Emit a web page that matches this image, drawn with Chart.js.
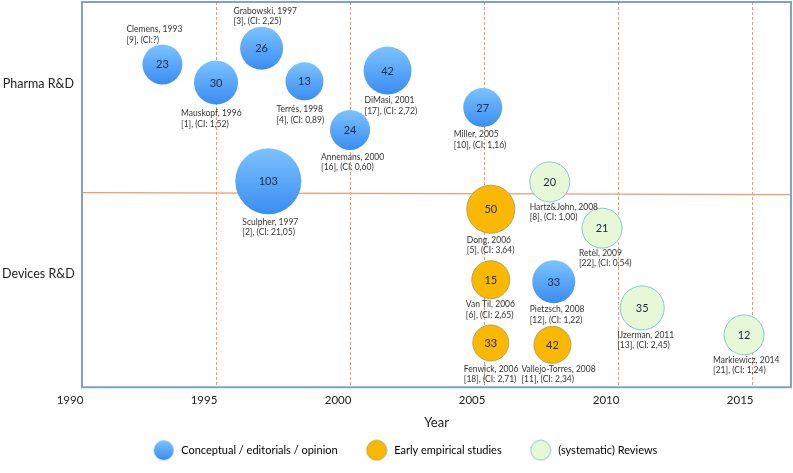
<!doctype html>
<html lang="en">
<head>
  <meta charset="utf-8">
  <title>Pharma and Devices R&amp;D studies</title>
  <script src="https://cdn.jsdelivr.net/npm/chart.js"></script>
  <style>
    html, body { margin: 0; padding: 0; background: #fff; }
  </style>
</head>
<body>
  <canvas id="studyChart" width="793" height="473"></canvas>

  <script>
    // categories and axis ticks
    const kindLabels = ['Conceptual / editorials / opinion', 'Early empirical studies', '(systematic) Reviews'];
    const rowLabels = ['Devices R&D', 'Pharma R&D'];
    const rowLevels = [29.5, 78.6];
    const yearTicks = [1990, 1995, 2000, 2005, 2010, 2015];
    const dividerLevels = [50.5, 50.0];

    // one entry per study
    const authors = ['Clemens, 1993', 'Mauskopf, 1996', 'Grabowski, 1997', 'Terrés, 1998', 'DiMasi, 2001',
      'Annemans, 2000', 'Sculpher, 1997', 'Miller, 2005', 'Pietzsch, 2008', 'Dong, 2006', 'Van Til, 2006',
      'Fenwick, 2006', 'Vallejo-Torres, 2008', 'Hartz&John, 2008', 'Retèl, 2009', 'IJzerman, 2011', 'Markiewicz, 2014'];
    const refs = ['[9], (CI:?)', '[1], (CI: 1,52)', '[3], (CI: 2,25)', '[4], (CI: 0,89)', '[17], (CI: 2,72)',
      '[16], (CI: 0,60)', '[2], (CI: 21,05)', '[10], (CI: 1,16)', '[12], (CI: 1,22)', '[5], (CI: 3,64)', '[6], (CI: 2,65)',
      '[18], (CI: 2,71)', '[11], (CI: 2,34)', '[8], (CI: 1,00)', '[22], (CI: 0,54)', '[13], (CI: 2,45)', '[21], (CI: 1,24)'];
    const counts = [23, 30, 26, 13, 42, 24, 103, 27, 33, 50, 15, 33, 42, 20, 21, 35, 12];
    const kinds = [0, 0, 0, 0, 0, 0, 0, 0, 0, 1, 1, 1, 1, 2, 2, 2, 2];
    const years = [1993.0, 1995.0, 1996.7, 1998.3, 2001.4, 2000.0, 1996.95, 2004.95, 2007.6,
      2005.25, 2005.25, 2005.25, 2007.55, 2007.45, 2009.4, 2010.9, 2014.7];
    const levels = [83.8, 79.1, 88.0, 79.4, 82.2, 66.8, 53.5, 72.6, 27.4,
      46.2, 27.9, 11.5, 11.0, 53.3, 41.3, 20.6, 13.6];
    const bubbleR = [20, 22, 21.5, 19, 24, 20, 33, 19.5, 21.5, 24, 19, 18, 18.5, 20, 20, 22, 20];

    // where each caption sits relative to its bubble (px)
    const captionOffsets = [[-36, -35], [-35, 31], [-28, -37], [-28, 28], [-23, 30], [-29, 27], [-26, 41], [-29, 27],
      [-24, 28], [-24, 31], [-25, 25], [-27, 26], [-31, 24], [-20, 25], [-23, 25], [-25, 27], [-31, 25]];

    const FONT = 'Lato, "Noto Sans", sans-serif';
    Chart.defaults.font.family = FONT;
    Chart.defaults.color = '#222';

    function blueFill(ctx, y, r) {
      const g = ctx.createLinearGradient(0, y - r, 0, y + r);
      g.addColorStop(0, '#7cc3ff');
      g.addColorStop(1, '#3a8cf1');
      return g;
    }

    // small canvases used as legend markers
    function makeIcon(kind) {
      const c = document.createElement('canvas');
      c.width = 22; c.height = 22;
      const g = c.getContext('2d');
      g.beginPath();
      g.arc(11, 11, 10, 0, Math.PI * 2);
      if (kind === 0) {
        g.fillStyle = blueFill(g, 11, 10);
        g.fill();
      } else if (kind === 1) {
        g.fillStyle = '#fbb800';
        g.fill();
        g.strokeStyle = '#b5a35a';
        g.stroke();
      } else {
        g.fillStyle = '#e6f8d6';
        g.fill();
        g.strokeStyle = '#86c5dc';
        g.stroke();
      }
      return c;
    }
    const legendIcons = [0, 1, 2].map(makeIcon);

    const datasets = kindLabels.map((label, k) => ({
      label,
      data: authors.map((a, i) => ({ x: years[i], y: levels[i], r: bubbleR[i], idx: i })).filter(p => kinds[p.idx] === k),
      backgroundColor: k === 0
        ? (c => {
            if (c.type !== 'data' || !c.chart.chartArea) return '#58a8fb';
            return blueFill(c.chart.ctx, c.chart.scales.y.getPixelForValue(c.raw.y), c.raw.r);
          })
        : (k === 1 ? '#fbb800' : '#e6f8d6'),
      borderColor: k === 0 ? 'transparent' : (k === 1 ? '#b5a35a' : '#86c5dc'),
      borderWidth: k === 0 ? 0 : 1
    }));

    // frame and divider line behind the bubbles
    const backdrop = {
      id: 'backdrop',
      beforeDatasetsDraw(chart) {
        const { ctx, chartArea: a, scales: { y } } = chart;
        ctx.save();
        ctx.strokeStyle = '#ef9a6a';
        ctx.lineWidth = 1.3;
        ctx.beginPath();
        ctx.moveTo(a.left, y.getPixelForValue(dividerLevels[0]));
        ctx.lineTo(a.right, y.getPixelForValue(dividerLevels[1]));
        ctx.stroke();
        ctx.strokeStyle = '#7ea2c9';
        ctx.lineWidth = 2;
        ctx.strokeRect(a.left, a.top, a.right - a.left, a.bottom - a.top);
        ctx.restore();
      }
    };

    // numbers inside bubbles and the captions
    const captions = {
      id: 'captions',
      afterDatasetsDraw(chart) {
        const ctx = chart.ctx;
        ctx.save();
        chart.data.datasets.forEach((ds, d) => {
          chart.getDatasetMeta(d).data.forEach((el, j) => {
            const i = ds.data[j].idx;
            ctx.fillStyle = '#1b2a46';
            ctx.font = '11px ' + FONT;
            ctx.textAlign = 'center';
            ctx.textBaseline = 'middle';
            ctx.fillText(String(counts[i]), el.x, el.y + 0.5);
            ctx.fillStyle = '#333';
            ctx.font = '8.5px ' + FONT;
            ctx.textAlign = 'left';
            const [dx, dy] = captionOffsets[i];
            ctx.fillText(authors[i], el.x + dx, el.y + dy);
            ctx.fillText(refs[i], el.x + dx, el.y + dy + 10.5);
          });
        });
        ctx.restore();
      }
    };

    new Chart(document.getElementById('studyChart'), {
      type: 'bubble',
      data: { datasets },
      options: {
        responsive: false,
        animation: false,
        events: [],
        layout: { autoPadding: false, padding: { left: 18, right: 2, top: 2, bottom: 7.25 } },
        scales: {
          x: {
            type: 'linear',
            min: 1990,
            max: 2016.45,
            afterBuildTicks: s => { s.ticks = yearTicks.map(v => ({ value: v })); },
            afterFit: s => { s.height = 30.5; s.paddingLeft = 0; s.paddingRight = 0; },
            ticks: { callback: v => String(v), font: { size: 11.5 }, padding: 6, labelOffset: -12, maxRotation: 0, autoSkip: false },
            grid: {
              color: c => (c.tick && c.tick.value > 1990 ? '#ec9a6c' : 'transparent'),
              lineWidth: 1,
              drawTicks: false
            },
            border: { display: false, dash: [3, 2] },
            title: { display: true, text: 'Year', font: { size: 13 }, padding: { top: 0, bottom: -13 } }
          },
          y: {
            type: 'linear',
            min: 0,
            max: 100,
            afterBuildTicks: s => { s.ticks = rowLevels.map(v => ({ value: v })); },
            afterFit: s => { s.width = 64; s.paddingTop = 0; s.paddingBottom = 0; },
            // labels sit left of the frame, drawn from the canvas edge
            ticks: { callback: (v, i) => rowLabels[i], font: { size: 12.5 }, mirror: true, crossAlign: 'center', padding: -80 },
            grid: { display: false, drawTicks: false },
            border: { display: false }
          }
        },
        plugins: {
          tooltip: { enabled: false },
          legend: {
            position: 'bottom',
            labels: {
              usePointStyle: true,
              pointStyleWidth: 24,
              padding: 27,
              font: { size: 11 },
              color: '#222',
              generateLabels: chart => chart.data.datasets.map((ds, i) => ({
                text: ds.label,
                pointStyle: legendIcons[i],
                fillStyle: 'transparent',
                strokeStyle: 'transparent',
                lineWidth: 0,
                hidden: false,
                datasetIndex: i
              }))
            }
          }
        }
      },
      plugins: [backdrop, captions]
    });
  </script>
</body>
</html>
